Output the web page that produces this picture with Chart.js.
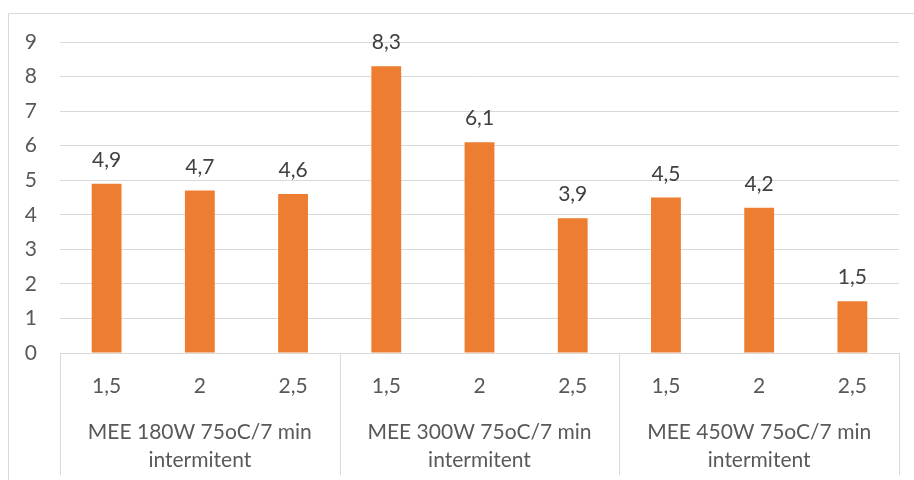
<!DOCTYPE html>
<html>
<head>
<meta charset="utf-8">
<script src="https://cdn.jsdelivr.net/npm/chart.js@4/dist/chart.umd.min.js"></script>
<style>
  html, body { margin: 0; padding: 0; background: #ffffff; }
  #wrap { position: relative; width: 914px; height: 480px; }
</style>
</head>
<body>
<div id="wrap"><canvas id="c" width="914" height="480"></canvas></div>
<script>
// Speed levels within each group
const subLabels = ['1,5', '2', '2,5', '1,5', '2', '2,5', '1,5', '2', '2,5'];
// Treatment groups (two-line labels)
const groupLabels = [
  ['MEE 180W 75oC/7 min', 'intermitent'],
  ['MEE 300W 75oC/7 min', 'intermitent'],
  ['MEE 450W 75oC/7 min', 'intermitent']
];
const groupSize = 3;
// Measured values
const values = [4.9, 4.7, 4.6, 8.3, 6.1, 3.9, 4.5, 4.2, 1.5];
const yTicks = [0, 1, 2, 3, 4, 5, 6, 7, 8, 9];

const FONT = 'Lato, "Open Sans", sans-serif';
const FSIZE = 21;
const GRID = '#D9D9D9';
const TEXT = '#595959';

// Outer frame, group separators, group labels and value labels
const decor = {
  id: 'decor',
  beforeDraw(chart) {
    const ctx = chart.ctx;
    ctx.save();
    ctx.strokeStyle = GRID;
    ctx.lineWidth = 1;
    ctx.beginPath();
    ctx.moveTo(8.5, 480);
    ctx.lineTo(8.5, 13.5);
    ctx.lineTo(914, 13.5);
    ctx.stroke();
    ctx.restore();
  },
  afterDraw(chart) {
    const ctx = chart.ctx;
    const x = chart.scales.x;
    const area = chart.chartArea;
    ctx.save();
    // separators between groups
    const bounds = [];
    for (let g = 0; g <= groupLabels.length; g++) {
      const i = g * groupSize;
      let px;
      if (i === 0) px = x.left;
      else if (i >= subLabels.length) px = x.right;
      else px = (x.getPixelForValue(i - 1) + x.getPixelForValue(i)) / 2;
      bounds.push(px);
    }
    ctx.strokeStyle = GRID;
    ctx.lineWidth = 1;
    bounds.forEach(px => {
      const p = Math.round(px) + 0.5;
      ctx.beginPath();
      ctx.moveTo(p, area.bottom);
      ctx.lineTo(p, 475);
      ctx.stroke();
    });
    // group labels
    ctx.fillStyle = TEXT;
    ctx.font = FSIZE + 'px ' + FONT;
    ctx.textAlign = 'center';
    ctx.textBaseline = 'middle';
    groupLabels.forEach((lines, g) => {
      const cx = (bounds[g] + bounds[g + 1]) / 2;
      lines.forEach((t, k) => ctx.fillText(t, cx, 432 + k * 28));
    });
    // value labels above bars
    const meta = chart.getDatasetMeta(0);
    ctx.fillStyle = '#404040';
    ctx.textBaseline = 'alphabetic';
    meta.data.forEach((bar, i) => {
      const txt = String(values[i]).replace('.', ',');
      ctx.fillText(txt, bar.x, bar.y - 17);
    });
    ctx.restore();
  }
};

new Chart(document.getElementById('c'), {
  type: 'bar',
  data: {
    labels: subLabels,
    datasets: [{
      data: values,
      backgroundColor: '#ED7D31',
      borderWidth: 0,
      categoryPercentage: 1,
      barPercentage: 0.32
    }]
  },
  options: {
    responsive: false,
    animation: false,
    events: [],
    layout: { padding: { top: 42, right: 15, bottom: 0, left: 0 } },
    plugins: { legend: { display: false }, tooltip: { enabled: false } },
    scales: {
      x: {
        grid: { display: false, drawTicks: false },
        border: { display: true, color: GRID, width: 1 },
        ticks: { color: TEXT, font: { family: FONT, size: FSIZE }, padding: 21, maxRotation: 0, autoSkip: false },
        afterFit(scale) { scale.height = 127; }
      },
      y: {
        min: 0,
        max: 9,
        afterBuildTicks(scale) { scale.ticks = yTicks.map(v => ({ value: v })); },
        grid: { color: GRID, lineWidth: 1, drawTicks: false },
        border: { display: false },
        ticks: { color: TEXT, font: { family: FONT, size: FSIZE }, padding: 23 },
        afterFit(scale) { scale.width = 60; }
      }
    }
  },
  plugins: [decor]
});
</script>
</body>
</html>
